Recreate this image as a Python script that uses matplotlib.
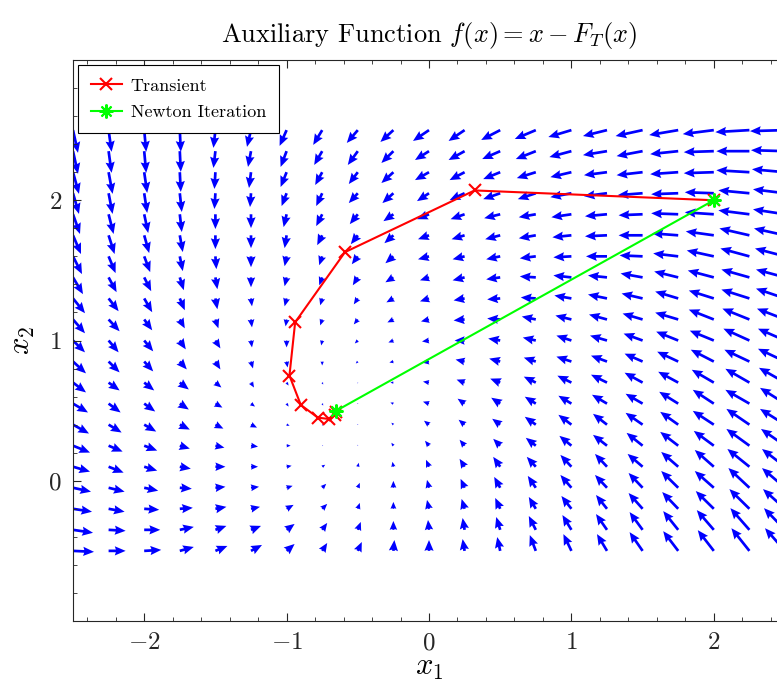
import numpy as np
import matplotlib
matplotlib.use('Agg')
import matplotlib.pyplot as plt
from matplotlib.ticker import AutoMinorLocator

plt.rcParams['font.family'] = 'serif'
plt.rcParams['font.serif'] = ['cmr10']
plt.rcParams['mathtext.fontset'] = 'cm'
plt.rcParams['axes.formatter.use_mathtext'] = True

# grid of the quiver field
x1_grid = [-2.5, -2.25, -2.0, -1.75, -1.5, -1.25, -1.0, -0.75, -0.5, -0.25, 0.0,
           0.25, 0.5, 0.75, 1.0, 1.25, 1.5, 1.75, 2.0, 2.25, 2.5]
x2_grid = [-0.5, -0.35, -0.2, -0.05, 0.1, 0.25, 0.4, 0.55, 0.7, 0.85, 1.0,
           1.15, 1.3, 1.45, 1.6, 1.75, 1.9, 2.05, 2.2, 2.35, 2.5]

# arrow components as drawn (rows: x2 from bottom to top, cols: x1 left to right)
U = [
    [21, 17, 17, 14, 12, 11, 8, 5, 4, 1, 0, -2, -3, -6, -8, -10, -13, -15, -16, -18, -20],
    [20, 17, 16, 14, 11, 10, 8, 5, 3, 0, -1, -2, -4, -7, -9, -11, -13, -15, -17, -19, -21],
    [19, 16, 15, 13, 11, 9, 7, 5, 2, 0, -2, -3, -5, -7, -10, -11, -14, -16, -18, -20, -22],
    [18, 16, 14, 12, 10, 8, 6, 4, 2, 0, -2, -4, -6, -8, -11, -12, -14, -17, -19, -21, -23],
    [17, 15, 13, 11, 10, 7, 5, 3, 1, -1, -3, -5, -7, -9, -11, -12, -15, -17, -19, -22, -23],
    [17, 14, 13, 10, 9, 7, 4, 1, 0, -2, -4, -5, -7, -10, -12, -14, -16, -18, -20, -23, -24],
    [16, 13, 12, 10, 8, 6, 3, 1, 0, -2, -5, -6, -8, -11, -13, -14, -17, -18, -21, -23, -25],
    [15, 12, 11, 9, 7, 4, 2, 1, 0, -3, -6, -7, -9, -11, -13, -15, -17, -19, -21, -24, -25],
    [13, 11, 10, 9, 6, 3, 2, 1, 0, -3, -6, -8, -10, -12, -14, -16, -18, -20, -22, -24, -26],
    [13, 11, 9, 7, 5, 2, 1, 0, -2, -4, -7, -9, -11, -12, -15, -16, -18, -21, -23, -25, -27],
    [12, 10, 9, 6, 5, 1, 0, -1, -3, -5, -7, -10, -12, -13, -15, -17, -19, -22, -24, -26, -27],
    [12, 11, 8, 5, 3, 1, -1, -2, -4, -6, -8, -11, -13, -14, -16, -18, -20, -23, -25, -27, -28],
    [12, 10, 8, 5, 2, 1, -2, -2, -4, -7, -9, -11, -13, -15, -17, -19, -21, -23, -25, -28, -29],
    [10, 8, 7, 4, 2, 0, -2, -3, -5, -8, -9, -12, -14, -16, -18, -19, -22, -24, -26, -28, -29],
    [9, 7, 6, 3, 1, 0, -2, -3, -6, -8, -11, -12, -14, -16, -18, -21, -23, -25, -27, -29, -30],
    [8, 6, 5, 3, 0, 0, -2, -5, -7, -9, -11, -13, -15, -17, -19, -22, -24, -26, -28, -30, -31],
    [7, 5, 4, 2, 0, 0, -3, -6, -8, -10, -12, -14, -16, -17, -20, -22, -24, -27, -29, -31, -32],
    [6, 4, 3, 2, -1, -1, -5, -6, -9, -11, -12, -15, -17, -18, -21, -23, -25, -27, -29, -31, -32],
    [6, 4, 3, 1, -1, -2, -6, -7, -9, -12, -14, -15, -17, -19, -21, -23, -26, -28, -30, -33, -33],
    [5, 3, 2, 1, -2, -3, -6, -8, -10, -12, -14, -16, -18, -20, -22, -24, -26, -28, -30, -33, -34],
    [5, 3, 2, 1, -2, -4, -7, -9, -11, -13, -16, -16, -19, -21, -23, -24, -27, -29, -31, -34, -35],
]
V = [
    [-1, 0, 1, 4, 5, 6, 7, 8, 9, 11, 11, 12, 14, 16, 17, 17, 19, 20, 21, 23, 23],
    [-3, -1, 0, 3, 4, 4, 6, 7, 8, 9, 10, 12, 13, 14, 15, 16, 18, 19, 20, 22, 22],
    [-3, -3, -1, 1, 2, 2, 4, 5, 6, 7, 9, 10, 11, 12, 13, 14, 16, 17, 18, 20, 20],
    [-4, -4, -3, -1, 1, 1, 2, 4, 5, 7, 8, 9, 11, 12, 13, 13, 15, 17, 17, 20, 20],
    [-5, -6, -4, -2, 0, 0, 1, 2, 4, 5, 7, 8, 10, 10, 12, 13, 13, 15, 17, 18, 18],
    [-7, -6, -5, -3, -2, -1, 0, 0, 1, 3, 5, 6, 7, 8, 10, 11, 13, 14, 15, 17, 17],
    [-9, -8, -7, -5, -4, -3, -1, -1, 0, 2, 4, 5, 6, 8, 10, 11, 12, 13, 14, 16, 16],
    [-9, -9, -8, -6, -4, -3, -3, -2, 0, 1, 2, 5, 6, 7, 8, 9, 10, 12, 14, 14, 16],
    [-10, -8, -8, -7, -5, -5, -3, -2, -1, 0, 1, 3, 4, 6, 7, 8, 10, 11, 13, 14, 15],
    [-12, -11, -10, -8, -8, -7, -6, -4, -2, -1, -1, 2, 3, 4, 5, 6, 8, 10, 12, 12, 13],
    [-12, -12, -11, -9, -8, -7, -7, -5, -3, -2, -1, 0, 2, 3, 5, 5, 7, 9, 10, 12, 12],
    [-14, -12, -11, -9, -9, -8, -7, -6, -5, -3, -2, -1, 1, 3, 4, 5, 6, 7, 10, 11, 11],
    [-15, -13, -14, -12, -11, -8, -8, -7, -6, -4, -3, -2, -1, 1, 3, 4, 5, 7, 8, 9, 10],
    [-17, -15, -14, -13, -12, -10, -9, -8, -8, -5, -3, -3, -2, 1, 2, 2, 4, 6, 7, 8, 8],
    [-18, -17, -16, -15, -13, -11, -10, -9, -8, -7, -3, -3, -3, -2, -1, 0, 1, 3, 6, 8, 8],
    [-19, -19, -18, -17, -14, -13, -13, -10, -9, -8, -4, -4, -4, -3, -2, -1, 0, 2, 4, 7, 7],
    [-20, -20, -19, -18, -15, -14, -13, -12, -10, -7, -5, -5, -4, -3, -3, -2, -1, 1, 2, 4, 5],
    [-21, -21, -20, -19, -16, -14, -13, -13, -10, -10, -8, -7, -6, -6, -4, -3, -2, -1, 1, 3, 4],
    [-22, -22, -21, -20, -17, -16, -15, -13, -12, -11, -8, -8, -7, -6, -5, -3, -3, -2, -1, 2, 3],
    [-23, -22, -22, -21, -17, -16, -16, -14, -14, -12, -9, -9, -8, -8, -6, -4, -5, -3, -1, 0, 1],
    [-23, -22, -22, -22, -18, -17, -16, -15, -13, -12, -11, -11, -10, -9, -7, -6, -6, -5, -4, -2, -1],
]

# transient trajectory and newton iterates
transient_x1 = [2.0, 0.32, -0.59, -0.94, -0.98, -0.90, -0.78, -0.70, -0.66, -0.65]
transient_x2 = [2.0, 2.07, 1.63, 1.13, 0.75, 0.54, 0.45, 0.44, 0.47, 0.49]
newton_x1 = [2.0, -0.65]
newton_x2 = [2.0, 0.50]

fig = plt.figure(figsize=(7.77, 6.82), dpi=100)
ax = fig.add_axes([73 / 777, 61 / 682, 712 / 777, 561 / 682])

X1, X2 = np.meshgrid(x1_grid, x2_grid)
ax.quiver(X1, X2, np.array(U), np.array(V), color=(0, 0, 1),
          angles='xy', scale_units='xy', scale=142.3,
          width=0.0038, headwidth=3.4, headlength=4.0, headaxislength=3.6,
          minshaft=1, minlength=0.3)

ax.plot(transient_x1, transient_x2, '-x', color='red', lw=1.5, ms=9, mew=1.5, label='Transient')
ax.plot(newton_x1, newton_x2, '-', color=(0, 1, 0), lw=1.5, marker=(8, 2, 0), ms=10, mew=1.5,
        label='Newton Iteration')

ax.set_xlim(-2.5, 2.5)
ax.set_ylim(-1, 3)
ax.set_xticks([-2, -1, 0, 1, 2])
ax.set_yticks([0, 1, 2])
ax.xaxis.set_minor_locator(AutoMinorLocator(5))
ax.yaxis.set_minor_locator(AutoMinorLocator(5))
ax.tick_params(which='both', direction='in', top=True, right=True, colors='0.15', labelsize=18)
ax.tick_params(which='major', length=6, width=0.8, pad=8)
ax.tick_params(which='minor', length=3, width=0.6)
for s in ax.spines.values():
    s.set_color('0.15')

ax.set_xlabel('$x_1$', fontsize=22, labelpad=0)
ax.set_ylabel('$x_2$', fontsize=22, labelpad=8)
ax.set_title('Auxiliary Function $f(x) = x - F_T(x)$', fontsize=19, pad=13)

leg = ax.legend(loc='upper left', fontsize=13, fancybox=False, framealpha=1,
                edgecolor='black', borderaxespad=0.3, handlelength=1.7,
                handletextpad=0.5, labelspacing=0.6, borderpad=0.7)
leg.get_frame().set_linewidth(0.8)

fig.savefig('out.png', dpi=100)
